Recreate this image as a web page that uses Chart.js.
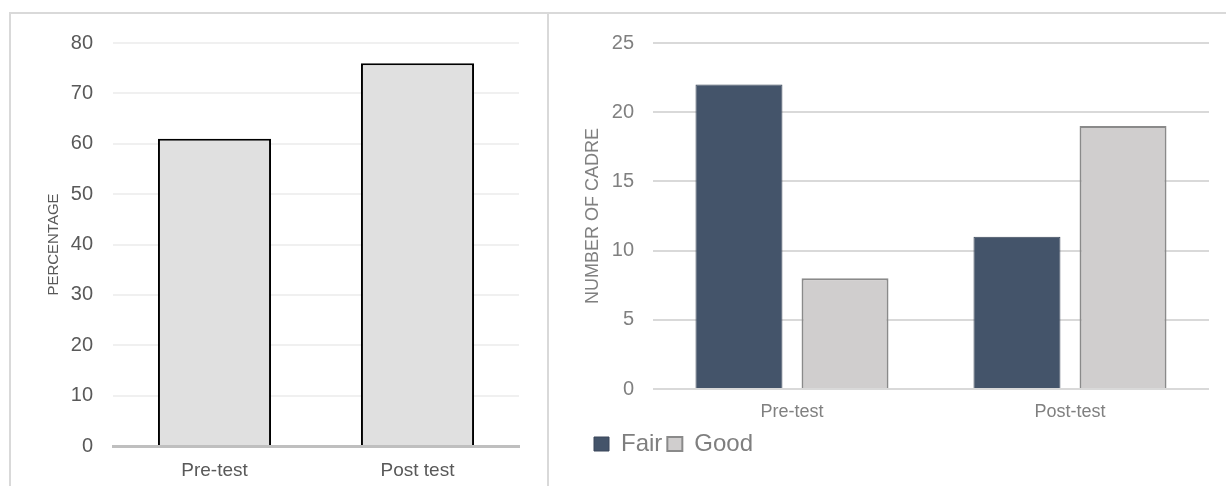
<!DOCTYPE html>
<html>
<head>
<meta charset="utf-8">
<script src="https://cdn.jsdelivr.net/npm/chart.js@4.4.1/dist/chart.umd.min.js"></script>
<style>
  body { margin: 0; background: #fff; width: 1226px; height: 486px; overflow: hidden; position: relative; }
  canvas { position: absolute; top: 0; }
  #left { left: 0; }
  #right { left: 549px; }
  .line { position: absolute; background: #d9d9d9; }
</style>
</head>
<body>
<canvas id="left" width="547" height="486"></canvas>
<canvas id="right" width="677" height="486"></canvas>
<div class="line" style="left:9px; top:12px; width:1217px; height:2px;"></div>
<div class="line" style="left:9px; top:12px; width:2px; height:474px;"></div>
<div class="line" style="left:547px; top:12px; width:2px; height:474px;"></div>
<script>
// data for the left chart
const leftLabels = ["Pre-test", "Post test"];
const leftValues = [61, 76];
const leftTicks = [0, 10, 20, 30, 40, 50, 60, 70, 80];

// data for the right chart
const rightLabels = ["Pre-test", "Post-test"];
const fairValues = [22, 11];
const goodValues = [8, 19];
const rightTicks = [0, 5, 10, 15, 20, 25];

const fontFam = "'Liberation Sans', Arial, sans-serif";

// Left chart //
new Chart(document.getElementById("left"), {
  type: "bar",
  data: {
    labels: leftLabels,
    datasets: [
      {
        data: leftValues,
        backgroundColor: "#e0e0e0",
        borderColor: "#000000",
        borderWidth: 2,
        categoryPercentage: 1,
        barPercentage: 0.557,
      },
    ],
  },
  options: {
    responsive: false,
    animation: false,
    layout: { padding: { left: 0, right: 28, top: 43, bottom: 0 } },
    plugins: { legend: { display: false }, tooltip: { enabled: false } },
    scales: {
      x: {
        grid: { display: false },
        border: { display: true, color: "#bfbfbf", width: 3 },
        ticks: { color: "#595959", font: { family: fontFam, size: 19 }, padding: 5 },
        afterFit: (s) => { s.height = 40; },
      },
      y: {
        min: leftTicks[0],
        max: leftTicks[leftTicks.length - 1],
        ticks: { stepSize: leftTicks[1] - leftTicks[0], color: "#595959", font: { family: fontFam, size: 20 }, padding: 20 },
        grid: { color: "#f0f0f0", lineWidth: 2, drawTicks: false },
        border: { display: false },
        title: {
          display: true,
          text: "PERCENTAGE",
          color: "#595959",
          font: { family: fontFam, size: 15 },
          padding: { top: 45, bottom: 0 },
        },
        afterFit: (s) => { s.width = 113; },
      },
    },
  },
});

// Right chart //
new Chart(document.getElementById("right"), {
  type: "bar",
  data: {
    labels: rightLabels,
    datasets: [
      {
        label: "Fair",
        data: fairValues,
        backgroundColor: "#44546a",
        borderColor: "#3a475a",
        borderWidth: 1,
        categoryPercentage: 0.763,
        barPercentage: 0.82,
      },
      {
        label: "Good",
        data: goodValues,
        backgroundColor: "#d0cece",
        borderColor: "#8a8a8a",
        borderWidth: 2,
        categoryPercentage: 0.763,
        barPercentage: 0.82,
      },
    ],
  },
  options: {
    responsive: false,
    animation: false,
    layout: { padding: { left: 40, right: 17, top: 43, bottom: 20 } },
    plugins: {
      tooltip: { enabled: false },
      legend: {
        position: "bottom",
        align: "start",
        labels: {
          boxWidth: 15,
          boxHeight: 14,
          padding: 5,
          color: "#7f7f7f",
          font: { family: fontFam, size: 24 },
        },
      },
    },
    scales: {
      x: {
        grid: { display: false },
        border: { display: false },
        ticks: { color: "#808080", font: { family: fontFam, size: 18 }, padding: 4 },
        afterFit: (s) => { s.height = 38; },
      },
      y: {
        min: rightTicks[0],
        max: rightTicks[rightTicks.length - 1],
        ticks: { stepSize: rightTicks[1] - rightTicks[0], color: "#808080", font: { family: fontFam, size: 20 }, padding: 19 },
        grid: { color: "#d9d9d9", lineWidth: 2, drawTicks: false },
        border: { display: false },
        title: {
          display: true,
          text: "NUMBER OF CADRE",
          color: "#808080",
          font: { family: fontFam, size: 18, lineHeight: 0.5 },
          padding: { top: 0, bottom: 0 },
        },
        afterFit: (s) => { s.width = 64; },
      },
    },
  },
});
</script>
</body>
</html>
